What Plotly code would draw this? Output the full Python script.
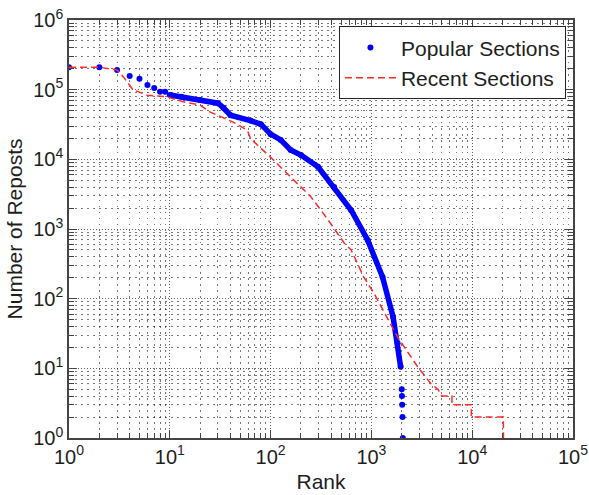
import plotly.graph_objects as go

# Popular Sections (rank, number of reposts)
popular_rank = [1, 2, 3, 4, 5, 6, 7, 8, 9, 10, 13, 20, 30, 34, 40, 63, 80, 100, 126, 158,
                200, 295, 427, 630, 920, 1290, 1640, 1820, 1950, 2000, 2010, 2020, 2035, 2050]
popular_reposts = [2.1e5, 2.1e5, 1.92e5, 1.57e5, 1.43e5, 1.17e5, 1.06e5, 9.3e4, 9.3e4, 8.4e4,
                   7.9e4, 7.1e4, 6.4e4, 5.5e4, 4.3e4, 3.6e4, 3.2e4, 2.3e4, 1.9e4, 1.36e4,
                   1.15e4, 7.8e3, 4.0e3, 1.86e3, 690, 204, 55, 23, 10.5, 5, 4, 3, 2, 1]

# Recent Sections
recent_rank = [1, 2, 3, 3.5, 4.3, 6, 9.4, 13.6, 20, 25, 32, 43, 59, 63, 100, 158, 251, 372,
               537, 630, 840, 1060, 1820, 2880, 3900, 4570, 5000, 6300, 6300, 9800, 9800,
               20400, 20400]
recent_reposts = [2.1e5, 2.1e5, 1.92e5, 1.5e5, 1.0e5, 8.3e4, 7.9e4, 6.7e4, 6.0e4, 4.8e4,
                  4.1e4, 3.4e4, 2.6e4, 2.0e4, 1.07e4, 5.6e3, 2.9e3, 1.35e3, 630, 500, 204,
                  120, 28, 10.5, 6, 5, 4, 4, 3, 3, 2, 2, 1]

x_tickvals = [10 ** k for k in range(0, 6)]
x_ticktext = ["10<sup>%d</sup>" % k for k in range(0, 6)]
y_tickvals = [10 ** k for k in range(0, 7)]
y_ticktext = ["10<sup>%d</sup>" % k for k in range(0, 7)]

dense_start = popular_rank.index(10)
dense_end = popular_rank.index(1950) + 1

BLUE = "#0000ff"
RED = "#ff2a2a"
FONT = "Liberation Sans, Arial, sans-serif"
TXT = "#1e1e1e"
GRID_MAJ = "rgba(30,30,30,0.7)"
GRID_MIN = "rgba(30,30,30,0.6)"
AX = "#444444"

fig = go.Figure()
fig.add_trace(go.Scatter(
    x=popular_rank[dense_start:dense_end], y=popular_reposts[dense_start:dense_end],
    mode="lines", line=dict(color=BLUE, width=5.5), showlegend=False,
    legendgroup="pop", hoverinfo="skip"))
fig.add_trace(go.Scatter(
    x=popular_rank, y=popular_reposts, mode="markers", name="Popular Sections",
    marker=dict(color=BLUE, size=6, symbol="circle"), legendgroup="pop"))
fig.add_trace(go.Scatter(
    x=recent_rank, y=recent_reposts, mode="lines", name="Recent Sections",
    line=dict(color=RED, width=1.5, dash="7px,4px")))


def minor_vals(n_dec):
    return [m * 10 ** k for k in range(n_dec) for m in range(2, 10)]


common = dict(
    type="log", showline=True, linecolor=AX, linewidth=1.5, mirror="allticks",
    ticks="inside", ticklen=8, tickcolor=AX, tickwidth=1, tickmode="array",
    showgrid=True, gridcolor=GRID_MAJ, griddash="1px,2px", gridwidth=1,
    zeroline=False, automargin=False, ticklabelstandoff=0,
    ticklabeloverflow="allow",
    tickfont=dict(family=FONT, size=20, color=TXT),
)
minor_common = dict(tickmode="array", ticks="inside", ticklen=5, tickcolor=AX,
                    showgrid=True, gridcolor=GRID_MIN, griddash="1.5px,4.5px",
                    gridwidth=1)

fig.update_xaxes(
    **common, range=[0, 5], tickvals=x_tickvals, ticktext=x_ticktext,
    minor=dict(**minor_common, tickvals=minor_vals(5)),
    title=dict(text="Rank", font=dict(family=FONT, size=21, color=TXT), standoff=8),
)
fig.update_yaxes(
    **common, range=[0, 6], tickvals=y_tickvals, ticktext=y_ticktext,
    minor=dict(**minor_common, tickvals=minor_vals(6)),
    title=dict(text="Number of Reposts", font=dict(family=FONT, size=21, color=TXT),
               standoff=5),
)

fig.update_layout(
    width=589, height=495,
    margin=dict(l=69, r=16, t=20, b=57),
    paper_bgcolor="white", plot_bgcolor="white",
    font=dict(family=FONT, color=TXT),
    legend=dict(x=0.986, y=0.985, xanchor="right", yanchor="top",
                bgcolor="white", bordercolor="#222222", borderwidth=1,
                font=dict(family=FONT, size=21, color=TXT), itemwidth=51,
                tracegroupgap=0),
)

# remove the browser's default 8px body margin so the figure fills the window
fig.write_html("out.html", config={"displayModeBar": False},
               post_script="document.body.style.margin='0px';")
